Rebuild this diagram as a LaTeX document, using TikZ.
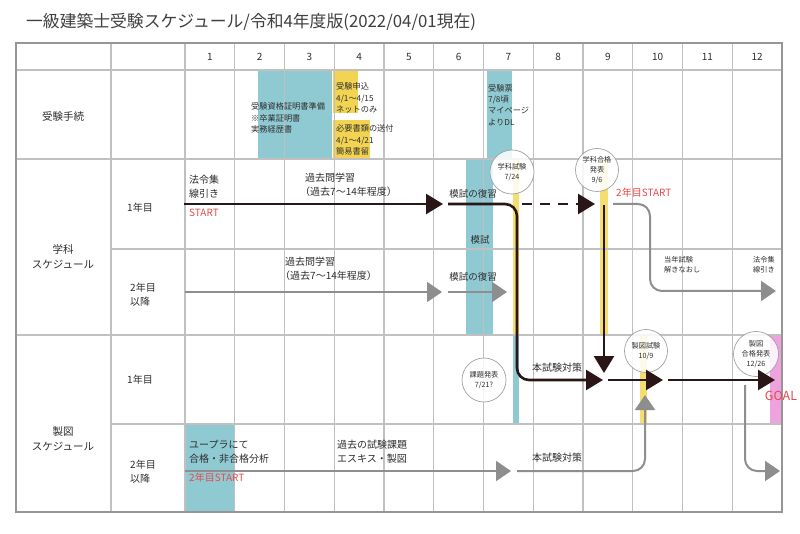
\documentclass[tikz,border=0pt]{standalone}
\usepackage{fontspec}
\setmainfont{Noto Sans CJK JP}
\usetikzlibrary{arrows.meta}
\definecolor{gridc}{HTML}{C0C0C0}
\definecolor{borderc}{HTML}{969696}
\definecolor{cyanc}{HTML}{8FCAD3}
\definecolor{yelc}{HTML}{F2D452}
\definecolor{yellc}{HTML}{F5DE70}
\definecolor{pinkc}{HTML}{EFA3DE}
\definecolor{blkc}{HTML}{2A1616}
\definecolor{grayc}{HTML}{8E8E8E}
\definecolor{redc}{HTML}{E64A4A}
\definecolor{txtc}{HTML}{2E2E2E}
\definecolor{circc}{HTML}{A0A0A0}
\newcommand\fzTitle{\fontsize{16.8}{19}\selectfont}
\newcommand\fzHead{\fontsize{10.5}{15}\selectfont}
\newcommand\fzBody{\fontsize{10}{14}\selectfont}
\newcommand\fzMid{\fontsize{9.5}{13}\selectfont}
\newcommand\fzSmall{\fontsize{8.2}{11.3}\selectfont}
\newcommand\fzTiny{\fontsize{7.2}{10}\selectfont}
\begin{document}
\begin{tikzpicture}[x=1pt,y=-1pt,
  gridline/.style={draw=gridc, line width=1.1pt},
  txt/.style={inner sep=0pt, text=txtc, align=left},
  ctr/.style={inner sep=0pt, text=txtc, align=center},
  redtxt/.style={inner sep=0pt, text=redc},
  bubble/.style={circle, draw=circc, line width=0.7pt, fill=white, fill opacity=0.85, text opacity=1, minimum size=43pt, inner sep=0pt, align=center, font=\fzTiny, text=txtc},
  blkarrow/.style={draw=blkc, line width=2.6pt, -{Triangle[length=17pt,width=20pt]}},
  grayarrow/.style={draw=grayc, line width=2pt, -{Triangle[length=15pt,width=20pt]}}
]
\useasboundingbox (0,0) rectangle (800,534);
\fill[white] (0,0) rectangle (800,534);

% colored blocks
\fill[cyanc] (258,70) rectangle (332,159);
\fill[yelc] (333,70) rectangle (358,113);
\fill[yelc] (333,120) rectangle (370,159);
\fill[cyanc] (487,70) rectangle (512,159);
\fill[cyanc] (466,159) rectangle (493,335);
\fill[yellc] (513,159) rectangle (519,335);
\fill[cyanc] (513,335) rectangle (519,424);
\fill[yellc] (600,159) rectangle (608,335);
\fill[yellc] (640,335) rectangle (647,424);
\fill[pinkc] (770,335) rectangle (782,424);
\fill[cyanc] (185,424) rectangle (234.75,512);

% grid
\foreach \i in {0,...,11} {
  \draw[gridline] ({185+49.75*\i},43) -- ({185+49.75*\i},512);
}
\draw[gridline] (111,43) -- (111,512);
\draw[gridline] (16,70) -- (782,70);
\draw[gridline] (16,159) -- (782,159);
\draw[gridline] (16,335) -- (782,335);
\draw[gridline] (111,249) -- (782,249);
\draw[gridline] (111,424) -- (782,424);
\draw[draw=borderc, line width=1.4pt] (16,43) rectangle (782,512);

% title
\node[txt, anchor=west, font=\fzTitle, text=black!75] (title) at (26,22) {一級建築士受験スケジュール/令和4年度版(2022/04/01現在)};

% header numbers
\foreach \i in {1,...,12} {
  \node[ctr, font=\fzBody] (m\i) at ({185+49.75*(\i-0.5)},57) {\i};
}

% first-column labels
\node[ctr, font=\fzHead] (proc) at (63,116) {受験手続};
\node[ctr, font=\fzHead] (gakka) at (63,257) {学科\\スケジュール};
\node[ctr, font=\fzHead] (seizu) at (63,439) {製図\\スケジュール};
\node[ctr, font=\fzBody] (g1) at (140,208) {1年目};
\node[txt, font=\fzBody] (g2) at (143,295) {2年目\\以降};
\node[ctr, font=\fzBody] (s1) at (140,380) {1年目};
\node[txt, font=\fzBody] (s2) at (143,472) {2年目\\以降};

% procedure texts
\node[txt, anchor=west, font=\fzSmall] (shikaku) at (251,118) {受験資格証明書準備\\※卒業証明書\\実務経歴書};
\node[txt, anchor=west, font=\fzSmall] (moushi) at (336,98) {受験申込\\4/1～4/15\\ネットのみ};
\node[txt, anchor=west, font=\fzSmall] (shorui) at (336,140) {必要書類の送付\\4/1～4/21\\簡易書留};
\node[txt, anchor=west, font=\fzSmall] (hyo) at (488,105) {受験票\\7/8頃\\マイページ\\よりDL};

% bubbles
\node[bubble, minimum size=44pt] (b1) at (512,172) {学科試験\\7/24};
\node[bubble] (b2) at (597,170) {学科合格\\発表\\9/6};
\node[bubble, minimum size=44pt] (b3) at (484,380) {課題発表\\7/21?};
\node[bubble] (b4) at (646,351) {製図試験\\10/9};
\node[bubble, minimum size=45pt] (b5) at (756,354) {製図\\合格発表\\12/26};

% arrow coordinates
\coordinate (k1s) at (184,204); \coordinate (k1e) at (443,204);
\coordinate (k2s) at (448,204); \coordinate (k2c) at (517,380); \coordinate (k2e) at (603,380);
\coordinate (k3s) at (522,204); \coordinate (k3e) at (595,204);
\coordinate (k4s) at (604,205); \coordinate (k4e) at (604,373);
\coordinate (k5s) at (608,380); \coordinate (k5e) at (663,380);
\coordinate (k6s) at (668,380); \coordinate (k6e) at (775,380);
\coordinate (g1s) at (185,292); \coordinate (g1e) at (442,292);
\coordinate (g2s) at (448,292); \coordinate (g2e) at (507,292);
\coordinate (g3s) at (613,204); \coordinate (g3c) at (650,291); \coordinate (g3e) at (776,291);
\coordinate (g4s) at (185,471); \coordinate (g4e) at (511,471);
\coordinate (g5s) at (517,471); \coordinate (g5e) at (645,395);
\coordinate (g6s) at (745,385); \coordinate (g6e) at (780,471);

% gray arrows
\draw[grayarrow] (g1s) -- (g1e);
\draw[grayarrow] (g2s) -- (g2e);
\draw[grayarrow, rounded corners=12pt] (g3s) -| (g3c) -- (g3e);
\draw[grayarrow] (g4s) -- (g4e);
\draw[grayarrow, rounded corners=12pt] (g5s) -| (g5e);
\draw[grayarrow, rounded corners=12pt] (g6s) |- (g6e);

% black arrows
\draw[blkarrow] (k1s) -- (k1e);
\draw[blkarrow, rounded corners=12pt] (k2s) -| (k2c) -- (k2e);
\draw[blkarrow, dash pattern=on 10pt off 8pt] (k3s) -- (k3e);
\draw[blkarrow] (k4s) -- (k4e);
\draw[blkarrow] (k5s) -- (k5e);
\draw[blkarrow] (k6s) -- (k6e);

% row texts
\node[txt, anchor=west, font=\fzBody] (horei1) at (189,187) {法令集\\線引き};
\node[redtxt, anchor=west, font=\fzBody] (start1) at (189,213) {START};
\node[txt, anchor=west, font=\fzBody] (kako1) at (300,185) {\hspace*{5pt}過去問学習\\（過去7～14年程度）};
\node[ctr, font=\fzMid] (moshi1) at (473,194) {模試の復習};
\node[ctr, font=\fzMid] (moshi) at (480,240) {模試};
\node[ctr, font=\fzMid] (moshi2) at (473,277) {模試の復習};
\node[txt, anchor=west, font=\fzBody] (kako2) at (280,269) {\hspace*{5pt}過去問学習\\（過去7～14年程度）};
\node[redtxt, anchor=west, font=\fzBody] (start2) at (616,193) {2年目START};
\node[txt, anchor=west, font=\fzTiny] (tonen) at (664,265) {当年試験\\解きなおし};
\node[txt, anchor=west, font=\fzTiny] (horei2) at (753,265) {法令集\\線引き};
\node[txt, anchor=west, font=\fzBody] (honshi1) at (532,368) {本試験対策};
\node[redtxt, font=\fontsize{12.5}{14}\selectfont] (goal) at (781,396) {GOAL};
\node[txt, anchor=west, font=\fzBody] (upura) at (189,452) {ユープラにて\\合格・非合格分析};
\node[redtxt, anchor=west, font=\fzBody] (start3) at (189,478) {2年目START};
\node[txt, anchor=west, font=\fzBody] (kadai) at (337,452) {過去の試験課題\\エスキス・製図};
\node[txt, anchor=west, font=\fzBody] (honshi2) at (532,458) {本試験対策};
\end{tikzpicture}
\end{document}
